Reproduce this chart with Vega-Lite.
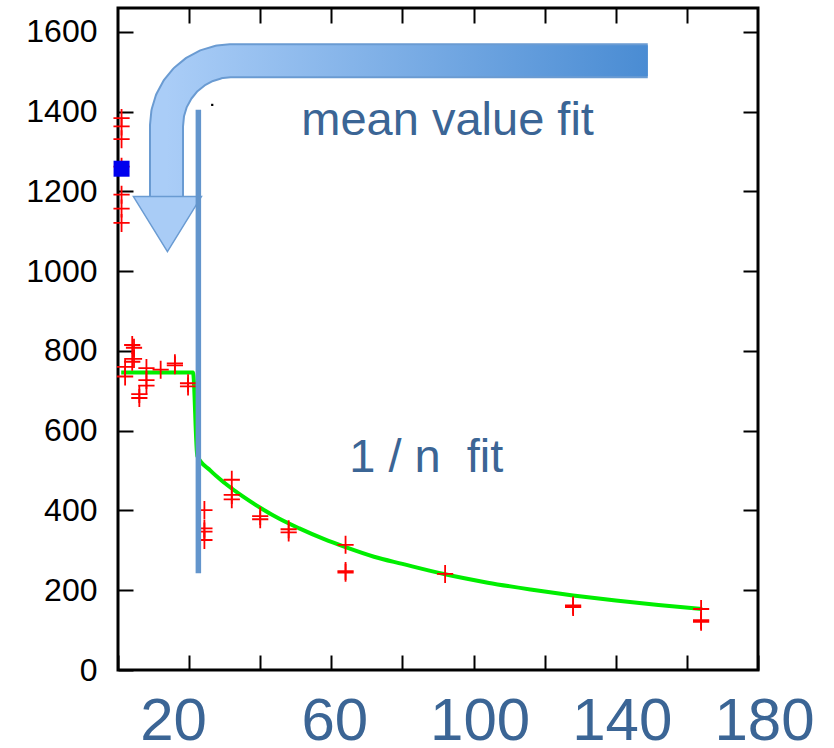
{
  "$schema": "https://vega.github.io/schema/vega-lite/v6.json",
  "width": 640,
  "height": 662,
  "autosize": {"type": "none"},
  "padding": {"left": 118, "top": 8, "right": 76, "bottom": 78},
  "background": "white",
  "config": {
    "view": {"stroke": "black", "strokeWidth": 3},
    "axis": {"grid": false, "domain": false, "title": null}
  },
  "datasets": {
    "pts": [
      {"x": 1, "y": 1384}, {"x": 1, "y": 1363}, {"x": 1, "y": 1331}, {"x": 1, "y": 1262},
      {"x": 1, "y": 1192}, {"x": 1, "y": 1157}, {"x": 1, "y": 1121},
      {"x": 2, "y": 736}, {"x": 2, "y": 760},
      {"x": 4, "y": 815}, {"x": 4.5, "y": 808}, {"x": 4, "y": 773}, {"x": 4.5, "y": 780},
      {"x": 6, "y": 682}, {"x": 6, "y": 692},
      {"x": 8, "y": 757}, {"x": 8, "y": 727}, {"x": 8, "y": 713},
      {"x": 12, "y": 753},
      {"x": 16, "y": 769}, {"x": 16, "y": 764},
      {"x": 19.7, "y": 711}, {"x": 19.7, "y": 719},
      {"x": 24.3, "y": 401}, {"x": 24.3, "y": 355}, {"x": 24.3, "y": 347}, {"x": 24.3, "y": 326},
      {"x": 32, "y": 477}, {"x": 32, "y": 439}, {"x": 32, "y": 428},
      {"x": 40, "y": 386}, {"x": 40, "y": 378},
      {"x": 48, "y": 353}, {"x": 48, "y": 345},
      {"x": 64, "y": 314}, {"x": 64, "y": 244}, {"x": 64, "y": 248},
      {"x": 92, "y": 241},
      {"x": 128, "y": 158}, {"x": 128, "y": 162},
      {"x": 164, "y": 153}, {"x": 164, "y": 121}, {"x": 164, "y": 125}
    ],
    "fit": [
      {"x": 0.9, "y": 746}, {"x": 21.1, "y": 746}, {"x": 22.3, "y": 537},
      {"x": 26, "y": 500}, {"x": 30, "y": 469}, {"x": 35, "y": 436}, {"x": 40, "y": 407},
      {"x": 45, "y": 381}, {"x": 51, "y": 355}, {"x": 58, "y": 328}, {"x": 64, "y": 308},
      {"x": 72, "y": 284}, {"x": 80, "y": 266}, {"x": 92, "y": 240}, {"x": 104, "y": 219},
      {"x": 116, "y": 202}, {"x": 128, "y": 187}, {"x": 140, "y": 174}, {"x": 152, "y": 163},
      {"x": 164.3, "y": 153}
    ],
    "arrow": [
      {"o": 0, "x": 149.0, "y": 1528}, {"o": 1, "x": 31.9, "y": 1528},
      {"o": 2, "x": 28.35, "y": 1524.7}, {"o": 3, "x": 24.92, "y": 1515.4},
      {"o": 4, "x": 21.77, "y": 1500.4}, {"o": 5, "x": 18.98, "y": 1480.1},
      {"o": 6, "x": 16.73, "y": 1455.4}, {"o": 7, "x": 15.03, "y": 1427.3},
      {"o": 8, "x": 13.99, "y": 1396.6}, {"o": 9, "x": 13.64, "y": 1364.8},
      {"o": 10, "x": 13.64, "y": 1180}
    ],
    "head": [{"x": 13.9, "y": 1118}],
    "square": [{"x": 1, "y": 1257}],
    "bar": [{"x": 22.6, "y": 1405, "y2": 242.5}],
    "dot": [{"x": 26.5, "y": 1417}],
    "labels": [
      {"x": 92.7, "y": 1342, "label": "mean value fit"},
      {"x": 86.7, "y": 497.5, "label": "1 / n\u00a0 fit"}
    ]
  },
  "encoding": {
    "x": {"field": "x", "type": "quantitative", "scale": {"domain": [0, 180], "nice": false, "zero": false}, "axis": null},
    "y": {"field": "y", "type": "quantitative", "scale": {"domain": [0, 1660], "nice": false, "zero": false}, "axis": null}
  },
  "layer": [
    {
      "data": {"name": "arrow"},
      "mark": {"type": "line", "stroke": "#6a9bd2", "strokeWidth": 35, "strokeCap": "butt", "strokeJoin": "round"},
      "encoding": {"order": {"field": "o", "type": "quantitative"}}
    },
    {
      "data": {"name": "arrow"},
      "mark": {
        "type": "line", "strokeWidth": 31, "strokeCap": "butt", "strokeJoin": "round",
        "stroke": {"gradient": "linear", "x1": 0, "y1": 0, "x2": 1, "y2": 0,
          "stops": [{"offset": 0, "color": "#aacdf7"}, {"offset": 1, "color": "#4a8cd3"}]}
      },
      "encoding": {"order": {"field": "o", "type": "quantitative"}}
    },
    {
      "data": {"name": "head"},
      "mark": {"type": "point", "shape": "M-1,-0.81L1,-0.81L0,0.81Z", "size": 4624, "filled": true,
        "fill": "#a9ccf6", "stroke": "#6a9bd2", "strokeWidth": 1.5, "opacity": 1}
    },
    {
      "data": {"name": "fit"},
      "mark": {"type": "line", "color": "#00ee00", "strokeWidth": 4, "interpolate": "monotone"},
      "encoding": {
        "x": {"field": "x", "type": "quantitative", "scale": {"domain": [0, 180], "nice": false, "zero": false},
          "axis": {"orient": "bottom", "values": [0, 20, 40, 60, 80, 100, 120, 140, 160, 180],
            "tickSize": -15, "tickWidth": 2, "tickColor": "black",
            "labelExpr": "datum.value % 40 == 20 ? datum.label : ''",
            "labelFont": "Liberation Sans", "labelFontSize": 60, "labelColor": "#3b6595",
            "labelPadding": 37, "labelFlush": false, "labelOverlap": false,
            "labelOffset": {"condition": [{"test": "datum.value == 20", "value": -16}, {"test": "datum.value >= 100", "value": 6}], "value": 3}}},
        "y": {"field": "y", "type": "quantitative", "scale": {"domain": [0, 1660], "nice": false, "zero": false},
          "axis": {"orient": "left", "values": [0, 200, 400, 600, 800, 1000, 1200, 1400, 1600],
            "format": "d", "tickSize": -15, "tickWidth": 2, "tickColor": "black",
            "labelFont": "Liberation Sans", "labelFontSize": 32, "labelColor": "black",
            "labelPadding": 36, "labelOverlap": false}}
      }
    },
    {
      "data": {"name": "pts"},
      "mark": {"type": "point", "shape": "M-0.9,0L0.9,0M0,-1L0,1", "size": 324, "filled": false,
        "stroke": "#ff0000", "strokeWidth": 1.8, "opacity": 1},
      "encoding": {
        "x": {"field": "x", "type": "quantitative", "scale": {"domain": [0, 180], "nice": false, "zero": false},
          "axis": {"orient": "top", "values": [20, 40, 60, 80, 100, 120, 140, 160],
            "tickSize": -15, "tickWidth": 2, "tickColor": "black", "labels": false}},
        "y": {"field": "y", "type": "quantitative", "scale": {"domain": [0, 1660], "nice": false, "zero": false},
          "axis": {"orient": "right", "values": [200, 400, 600, 800, 1000, 1200, 1400, 1600],
            "tickSize": -15, "tickWidth": 2, "tickColor": "black", "labels": false}}
      }
    },
    {
      "data": {"name": "square"},
      "mark": {"type": "point", "shape": "square", "size": 256, "filled": true, "color": "#0000ee", "opacity": 1}
    },
    {
      "data": {"name": "bar"},
      "mark": {"type": "rule", "color": "#6395cc", "strokeWidth": 5.5},
      "encoding": {"y2": {"field": "y2"}}
    },
    {
      "data": {"name": "dot"},
      "mark": {"type": "point", "shape": "square", "size": 5, "filled": true, "color": "black", "opacity": 1}
    },
    {
      "data": {"name": "labels"},
      "mark": {"type": "text", "font": "Liberation Sans", "fontSize": 47, "color": "#3b6595",
        "align": "center", "baseline": "alphabetic"},
      "encoding": {"text": {"field": "label"}}
    }
  ],
  "resolve": {"axis": {"x": "independent", "y": "independent"}}
}
